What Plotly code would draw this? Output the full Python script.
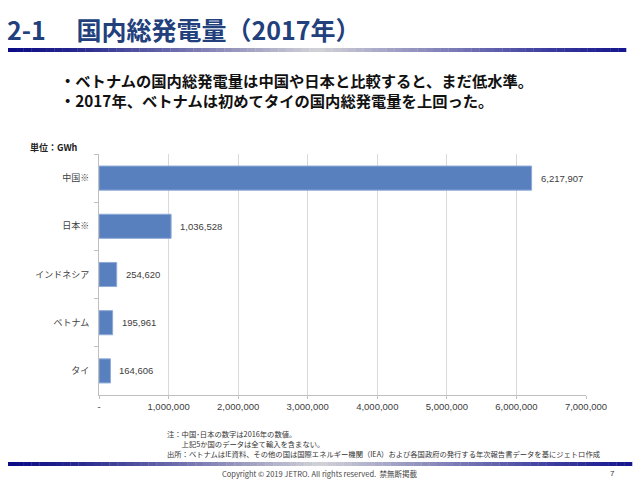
import plotly.graph_objects as go

# ---- data ----
countries = ["中国※", "日本※", "インドネシア", "ベトナム", "タイ"]
generation_gwh = [6217907, 1036528, 254620, 195961, 164606]
x_tick_values = [0, 1000000, 2000000, 3000000, 4000000, 5000000, 6000000, 7000000]
x_tick_labels = ["-", "1,000,000", "2,000,000", "3,000,000", "4,000,000",
                 "5,000,000", "6,000,000", "7,000,000"]

title_text = "2-1　 国内総発電量（2017年）"
bullet_lines = ["・ベトナムの国内総発電量は中国や日本と比較すると、まだ低水準。",
                "・2017年、ベトナムは初めてタイの国内総発電量を上回った。"]
unit_text = "単位：GWh"
note_lines = ["注：中国･日本の数字は2016年の数値。",
              "　　上記5か国のデータは全て輸入を含まない。",
              "出所：ベトナムはIE資料、その他の国は国際エネルギー機関（IEA）および各国政府の発行する年次報告書データを基にジェトロ作成"]
footer_text = "Copyright © 2019 JETRO. All rights reserved.  禁無断掲載"
page_no = "7"

# ---- layout geometry (pixels) ----
W, H = 640, 479
L, R, T, B = 99, 586, 154, 395
JP = "Noto Sans CJK JP"


def px(xp):
    return (xp - L) / (R - L)


def py(yp):
    return (B - yp) / (B - T)


def hex2rgb(h):
    h = h.lstrip("#")
    return tuple(int(h[i:i + 2], 16) for i in (0, 2, 4))


stops = [(0.0, "#0a0a85"), (0.12, "#2a2a90"), (0.5, "#d2d2d8"), (0.88, "#3a3a9e"), (1.0, "#15158e")]


def grad_color(t):
    for (t0, c0), (t1, c1) in zip(stops[:-1], stops[1:]):
        if t0 <= t <= t1:
            f = (t - t0) / (t1 - t0)
            a, b = hex2rgb(c0), hex2rgb(c1)
            return "rgb(%d,%d,%d)" % tuple(round(a[i] + (b[i] - a[i]) * f) for i in range(3))
    return stops[-1][1]


def gradient_bar(x0, x1, y0, y1, n=80):
    shapes = []
    for i in range(n):
        xa = x0 + (x1 - x0) * i / n
        xb = x0 + (x1 - x0) * (i + 1) / n + 0.3
        shapes.append(dict(type="rect", xref="paper", yref="paper",
                           x0=px(xa), x1=px(xb), y0=py(y1), y1=py(y0),
                           fillcolor=grad_color((i + 0.5) / n), line=dict(width=0), layer="above"))
    return shapes


fig = go.Figure()
fig.add_trace(go.Bar(
    x=generation_gwh, y=countries, orientation="h",
    marker=dict(color="#5880bf", line=dict(color="#8eaad8", width=1)),
    hoverinfo="skip",
))

annotations = []
for c, v in zip(countries, generation_gwh):
    annotations.append(dict(x=v, y=c, xref="x", yref="y", text=f"{v:,}", showarrow=False,
                            xanchor="left", xshift=7, font=dict(family="Liberation Sans", size=9.5, color="#404040")))

annotations.append(dict(x=px(5), y=py(29), xref="paper", yref="paper", text="<b>" + title_text + "</b>",
                        showarrow=False, xanchor="left", yanchor="middle",
                        font=dict(family=JP, size=25, color="#21407c")))
for i, line in enumerate(bullet_lines):
    annotations.append(dict(x=px(58), y=py(80 + 20 * i), xref="paper", yref="paper", text="<b>" + line + "</b>",
                            showarrow=False, xanchor="left", yanchor="middle",
                            font=dict(family=JP, size=15.3, color="#111111")))
annotations.append(dict(x=px(28), y=py(147), xref="paper", yref="paper", text="<b>" + unit_text + "</b>",
                        showarrow=False, xanchor="left", yanchor="middle",
                        font=dict(family=JP, size=9, color="#222222")))
for i, line in enumerate(note_lines):
    annotations.append(dict(x=px(165), y=py(434 + 10 * i), xref="paper", yref="paper", text=line,
                            showarrow=False, xanchor="left", yanchor="middle",
                            font=dict(family=JP, size=7.3, color="#333333")))
annotations.append(dict(x=px(319), y=py(473), xref="paper", yref="paper", text=footer_text,
                        showarrow=False, xanchor="center", yanchor="middle",
                        font=dict(family=JP, size=7.5, color="#444444")))
annotations.append(dict(x=px(612), y=py(473), xref="paper", yref="paper", text=page_no,
                        showarrow=False, xanchor="center", yanchor="middle",
                        font=dict(family="Liberation Sans", size=8, color="#333333")))

shapes = gradient_bar(8, 626, 48, 52) + gradient_bar(8, 632, 462, 466)

fig.update_layout(
    width=W, height=H,
    margin=dict(l=L, r=W - R, t=T, b=H - B, pad=0),
    paper_bgcolor="white", plot_bgcolor="white",
    showlegend=False, bargap=0.5,
    annotations=annotations, shapes=shapes,
    xaxis=dict(range=[0, 7000000], tickvals=x_tick_values, ticktext=x_tick_labels,
               showgrid=True, gridcolor="#d9d9d9", gridwidth=1,
               showline=True, linecolor="#bfbfbf", linewidth=1,
               ticks="outside", ticklen=3, tickcolor="#bfbfbf",
               zeroline=False, fixedrange=True,
               tickfont=dict(family="Liberation Sans", size=9.5, color="#404040")),
    yaxis=dict(categoryorder="array", categoryarray=countries, autorange="reversed",
               showline=True, linecolor="#bfbfbf", linewidth=1,
               ticks="outside", ticklen=4, tickcolor="#bfbfbf", tickson="boundaries",
               ticklabelstandoff=7,
               showgrid=False, fixedrange=True,
               tickfont=dict(family=JP, size=9, color="#404040")),
)

fig.write_html("out.html", config={"displayModeBar": False},
               post_script="document.body.style.margin='0';document.body.style.overflow='hidden';")
